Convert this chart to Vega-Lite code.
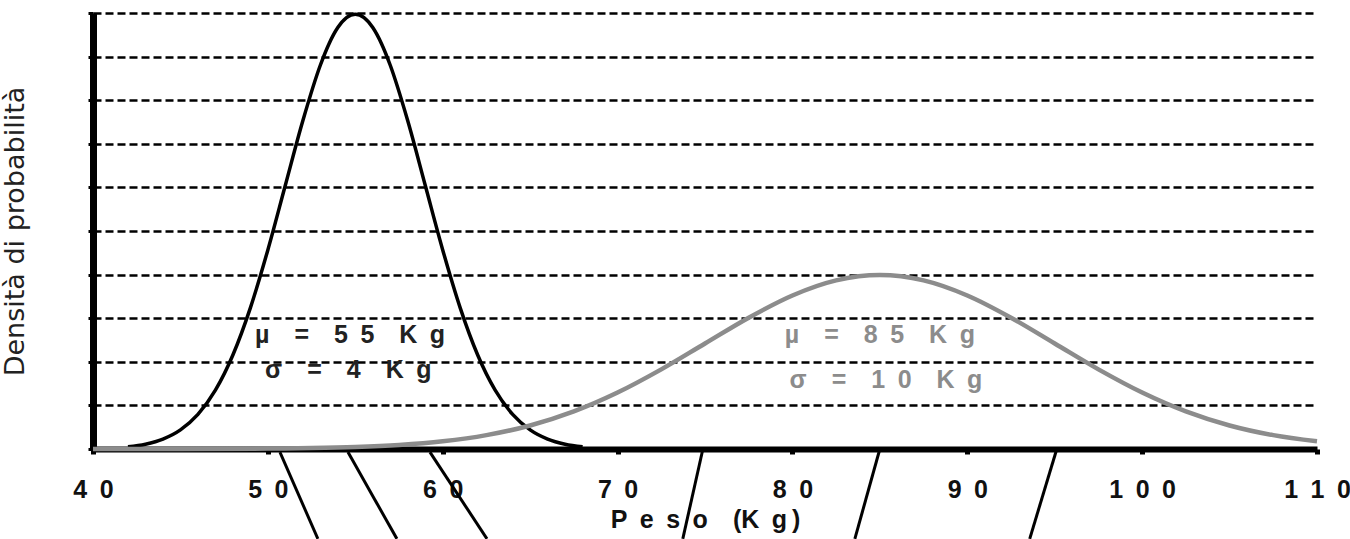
{
  "$schema": "https://vega.github.io/schema/vega-lite/v6.json",
  "autosize": "none",
  "width": 1224,
  "height": 436,
  "padding": {"left": 93, "top": 13, "right": 33, "bottom": 90},
  "background": "white",
  "config": {
    "view": {"stroke": null},
    "font": "Liberation Sans"
  },
  "datasets": {
    "black": [
      {"x": 42, "y": 0.000507}, {"x": 43, "y": 0.001108}, {"x": 44, "y": 0.002273},
      {"x": 45, "y": 0.004382}, {"x": 46, "y": 0.007935}, {"x": 47, "y": 0.013498},
      {"x": 48, "y": 0.021569}, {"x": 49, "y": 0.032379}, {"x": 50, "y": 0.045662},
      {"x": 51, "y": 0.060493}, {"x": 52, "y": 0.075283}, {"x": 53, "y": 0.088016},
      {"x": 53.5, "y": 0.092964}, {"x": 54, "y": 0.096667}, {"x": 54.5, "y": 0.09896},
      {"x": 55, "y": 0.099736}, {"x": 55.5, "y": 0.09896}, {"x": 56, "y": 0.096667},
      {"x": 56.5, "y": 0.092964}, {"x": 57, "y": 0.088016}, {"x": 58, "y": 0.075283},
      {"x": 59, "y": 0.060493}, {"x": 60, "y": 0.045662}, {"x": 61, "y": 0.032379},
      {"x": 62, "y": 0.021569}, {"x": 63, "y": 0.013498}, {"x": 64, "y": 0.007935},
      {"x": 65, "y": 0.004382}, {"x": 66, "y": 0.002273}, {"x": 67, "y": 0.001108},
      {"x": 68, "y": 0.000507}
    ],
    "gray": [
      {"x": 40, "y": 0.0000016}, {"x": 45, "y": 0.0000134}, {"x": 50, "y": 0.0000873},
      {"x": 52.5, "y": 0.000203}, {"x": 55, "y": 0.000443}, {"x": 57.5, "y": 0.000909},
      {"x": 60, "y": 0.001753}, {"x": 62.5, "y": 0.003174}, {"x": 65, "y": 0.005399},
      {"x": 67.5, "y": 0.008628}, {"x": 70, "y": 0.012952}, {"x": 72.5, "y": 0.018265},
      {"x": 75, "y": 0.024197}, {"x": 77.5, "y": 0.030114}, {"x": 80, "y": 0.035207},
      {"x": 82.5, "y": 0.038667}, {"x": 85, "y": 0.039894}, {"x": 87.5, "y": 0.038667},
      {"x": 90, "y": 0.035207}, {"x": 92.5, "y": 0.030114}, {"x": 95, "y": 0.024197},
      {"x": 97.5, "y": 0.018265}, {"x": 100, "y": 0.012952}, {"x": 102.5, "y": 0.008628},
      {"x": 105, "y": 0.005399}, {"x": 107.5, "y": 0.003174}, {"x": 110, "y": 0.001753}
    ],
    "slants": [
      {"x": 50.69, "y": -0.0007, "x2": 52.86, "y2": -0.0206},
      {"x": 54.58, "y": -0.0007, "x2": 57.38, "y2": -0.0206},
      {"x": 59.27, "y": -0.0007, "x2": 62.53, "y2": -0.0206},
      {"x": 74.88, "y": 0.0, "x2": 73.73, "y2": -0.0206},
      {"x": 85.0, "y": 0.0, "x2": 83.57, "y2": -0.0206},
      {"x": 95.12, "y": 0.0, "x2": 93.57, "y2": -0.0206}
    ],
    "blackText": [
      {"x": 54.7, "y": 0.0262, "t": "µ\u2002\u2002=\u2002\u20025\u20025\u2002\u2002K\u2002g"},
      {"x": 54.6, "y": 0.0181, "t": "σ\u2002\u2002=\u2002\u20024\u2002\u2002K\u2002g"}
    ],
    "grayText": [
      {"x": 85.0, "y": 0.0262, "t": "µ\u2002\u2002=\u2002\u20028\u20025\u2002\u2002K\u2002g"},
      {"x": 85.35, "y": 0.0158, "t": "σ\u2002\u2002=\u2002\u20021\u20020\u2002\u2002K\u2002g"}
    ]
  },
  "encoding": {
    "x": {
      "field": "x",
      "type": "quantitative",
      "scale": {"domain": [40, 110], "nice": false, "zero": false},
      "axis": {
        "values": [40, 50, 60, 70, 80, 90, 100, 110],
        "title": "P\u2002e\u2002s\u2002o\u2002\u2002(K\u2002g\u2009)",
        "titleFont": "Liberation Sans",
        "titleFontSize": 25,
        "titleFontWeight": "bold",
        "titleColor": "#111",
        "titlePadding": 5,
        "labelExpr": "length(datum.label) == 3 ? slice(datum.label,0,1) + '\u2002' + slice(datum.label,1,2) + '\u2002' + slice(datum.label,2) : slice(datum.label,0,1) + '\u2002' + slice(datum.label,1)",
        "labelFont": "Liberation Sans",
        "labelFontSize": 25,
        "labelFontWeight": "bold",
        "labelColor": "#111",
        "labelPadding": 23,
        "labelFlush": false,
        "labelOverlap": false,
        "domainColor": "#000",
        "domainWidth": 6,
        "tickColor": "#000",
        "tickWidth": 5,
        "tickSize": 5,
        "grid": false
      }
    },
    "y": {
      "field": "y",
      "type": "quantitative",
      "scale": {"domain": [0, 0.1], "nice": false},
      "axis": {
        "values": [0, 0.01, 0.02, 0.03, 0.04, 0.05, 0.06, 0.07, 0.08, 0.09, 0.1],
        "labels": false,
        "title": "Densità di probabilità",
        "titleFont": "DejaVu Sans",
        "titleFontSize": 27,
        "titleFontWeight": "normal",
        "titleColor": "#222",
        "titlePadding": 57,
        "domainColor": "#000",
        "domainWidth": 7,
        "tickColor": "#000",
        "tickWidth": 3,
        "tickSize": 5,
        "grid": true,
        "gridColor": "#000",
        "gridWidth": 2.5,
        "gridDash": [8, 4],
        "gridOpacity": 1
      }
    }
  },
  "layer": [
    {
      "data": {"name": "slants"},
      "mark": {"type": "rule", "color": "#000", "strokeWidth": 3, "clip": false},
      "encoding": {
        "x2": {"field": "x2"},
        "y2": {"field": "y2"}
      }
    },
    {
      "data": {"name": "black"},
      "mark": {"type": "line", "color": "#000", "strokeWidth": 3.5, "interpolate": "monotone"}
    },
    {
      "data": {"name": "gray"},
      "mark": {"type": "line", "color": "#8c8c8c", "strokeWidth": 4.5, "interpolate": "monotone"}
    },
    {
      "data": {"name": "blackText"},
      "mark": {"type": "text", "font": "Liberation Sans", "fontSize": 25, "fontWeight": "bold", "color": "#222", "align": "center", "baseline": "middle"},
      "encoding": {"text": {"field": "t"}}
    },
    {
      "data": {"name": "grayText"},
      "mark": {"type": "text", "font": "Liberation Sans", "fontSize": 25, "fontWeight": "bold", "color": "#8c8c8c", "align": "center", "baseline": "middle"},
      "encoding": {"text": {"field": "t"}}
    }
  ]
}
